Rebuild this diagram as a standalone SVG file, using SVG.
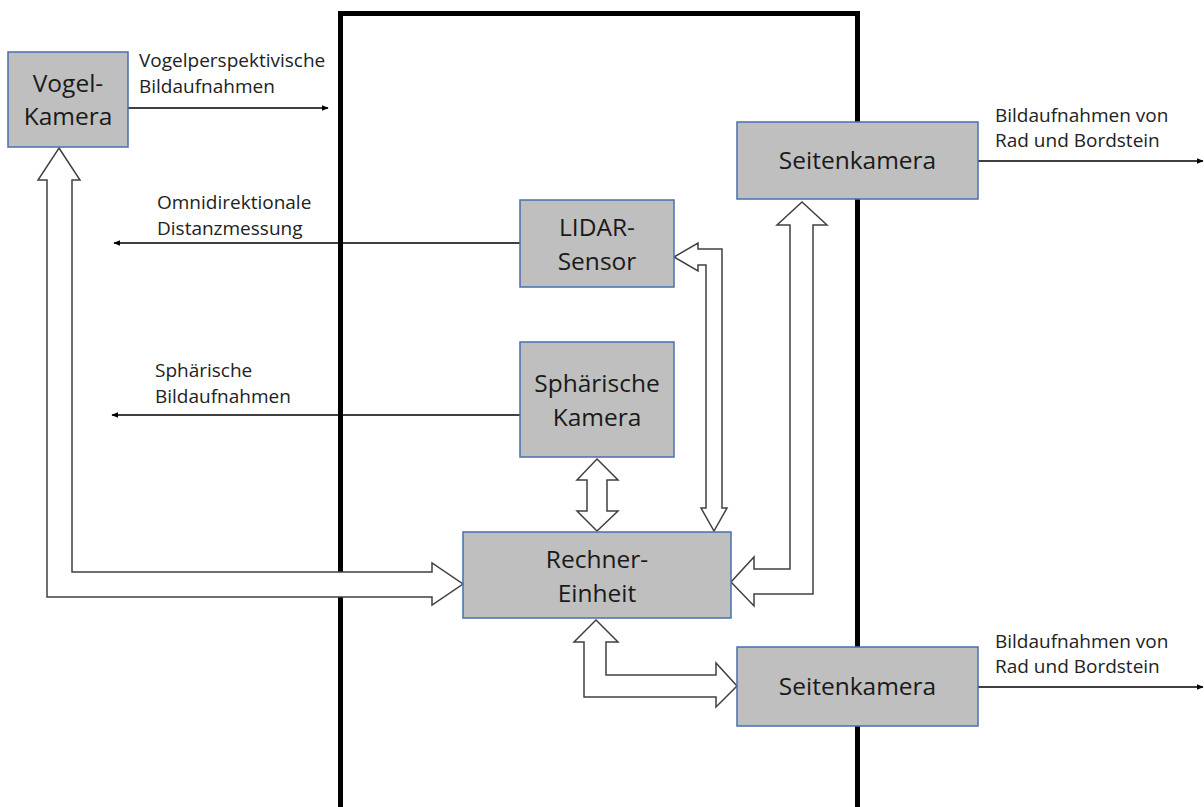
<svg xmlns="http://www.w3.org/2000/svg" width="1204" height="807" viewBox="0 0 1204 807">
<defs>
<style>
.box{fill:#bfbfbf;stroke:#4a6fb0;stroke-width:1.5}
.nt{font-family:"Open Sans","Liberation Sans",sans-serif;font-size:24.5px;fill:#1a1a1a;text-anchor:middle}
.lb{font-family:"Open Sans","Liberation Sans",sans-serif;font-size:19px;fill:#222}
.thin{stroke:#000;stroke-width:1.5;fill:none;marker-end:url(#ah)}
.blk{fill:#fff;stroke:#404040;stroke-width:1.5;stroke-linejoin:miter}
</style>
<marker id="ah" viewBox="0 0 10 10" refX="9" refY="5" markerWidth="7" markerHeight="7" orient="auto" markerUnits="userSpaceOnUse">
<path d="M0,1 L10,5 L0,9 Z" fill="#000"/>
</marker>
</defs>
<rect width="1204" height="807" fill="#fff"/>
<g id="frame">
<path d="M340.5,807 V13.5 H857.5 V807" fill="none" stroke="#000" stroke-width="5"/>
</g>
<g id="connectors">
<line class="thin" x1="128" y1="108" x2="328" y2="108"/>
<line class="thin" x1="520" y1="243" x2="114" y2="243"/>
<line class="thin" x1="520" y1="415" x2="112" y2="415"/>
<line class="thin" x1="978" y1="161" x2="1203" y2="161"/>
<line class="thin" x1="978" y1="687" x2="1203" y2="687"/>
<path class="blk" d="M59,148 L80,180 L72,180 L72,572 L432,572 L432,563 L463,584 L432,605 L432,597 L47,597 L47,180 L38,180 Z"/>
<path class="blk" d="M597,459 L618,480 L607,480 L607,511 L618,511 L597,531 L577,511 L587,511 L587,480 L577,480 Z"/>
<path class="blk" d="M674,257 L698,243 L698,249 L722,249 L722,508 L727,508 L714,531 L701,508 L706,508 L706,265 L698,265 L698,271 Z"/>
<path class="blk" d="M802,202 L827,225 L813,225 L813,594 L754,594 L754,606 L731,582 L754,557 L754,569 L790,569 L790,225 L777,225 Z"/>
<path class="blk" d="M596,620 L618,642 L606,642 L606,675 L716,675 L716,663 L737,686 L716,707 L716,697 L584,697 L584,642 L574,642 Z"/>
<text class="lb" x="139" y="67">Vogelperspektivische</text>
<text class="lb" x="139" y="93">Bildaufnahmen</text>
<text class="lb" x="157" y="209">Omnidirektionale</text>
<text class="lb" x="157" y="235">Distanzmessung</text>
<text class="lb" x="155" y="377">Sphärische</text>
<text class="lb" x="155" y="403">Bildaufnahmen</text>
<text class="lb" x="995" y="122">Bildaufnahmen von</text>
<text class="lb" x="995" y="147">Rad und Bordstein</text>
<text class="lb" x="995" y="648">Bildaufnahmen von</text>
<text class="lb" x="995" y="673">Rad und Bordstein</text>
</g>
<g id="vogel-kamera">
<rect class="box" x="8" y="52" width="120" height="95"/>
<text class="nt" x="68" y="91.5">Vogel-</text>
<text class="nt" x="68" y="124.5">Kamera</text>
</g>
<g id="lidar-sensor">
<rect class="box" x="520" y="200" width="154" height="87"/>
<text class="nt" x="597" y="235.5">LIDAR-</text>
<text class="nt" x="597" y="269.5">Sensor</text>
</g>
<g id="sphaerische-kamera">
<rect class="box" x="520" y="342" width="154" height="115"/>
<text class="nt" x="597" y="391.5">Sphärische</text>
<text class="nt" x="597" y="425.5">Kamera</text>
</g>
<g id="rechner-einheit">
<rect class="box" x="463" y="532" width="268" height="86"/>
<text class="nt" x="597" y="567.5">Rechner-</text>
<text class="nt" x="597" y="601.5">Einheit</text>
</g>
<g id="seitenkamera-oben">
<rect class="box" x="737" y="122" width="241" height="77"/>
<text class="nt" x="857.5" y="169">Seitenkamera</text>
</g>
<g id="seitenkamera-unten">
<rect class="box" x="737" y="647" width="241" height="79"/>
<text class="nt" x="857.5" y="695">Seitenkamera</text>
</g>
</svg>
